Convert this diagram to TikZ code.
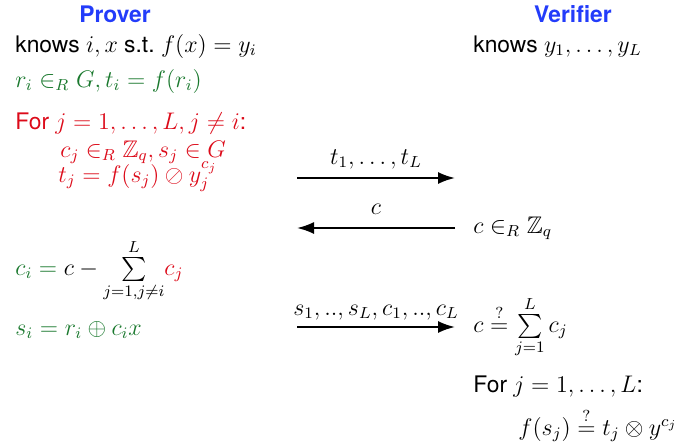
\documentclass[tikz,border=0pt]{standalone}
\usepackage{amssymb}
\usepackage{fontspec}
\setmainfont{TeX Gyre Heros}[Scale=0.95]
\usetikzlibrary{arrows.meta}
\definecolor{provblue}{RGB}{35,60,250}
\definecolor{provgreen}{RGB}{25,120,45}
\definecolor{provred}{RGB}{220,10,25}
\begin{document}
\begin{tikzpicture}[x=0.5pt, y=0.5pt, >={Latex[length=8.5pt,width=6pt]},
  font=\fontsize{12}{14}\selectfont,
  t/.style={anchor=base west, inner sep=0pt},
  hd/.style={anchor=base, font=\fontsize{12}{14}\selectfont\bfseries, text=provblue, inner sep=0pt},
  msg/.style={->, line width=1pt}]
\useasboundingbox (0,0) rectangle (685,-445);
% headers
\node[hd] (prover) at (115,-22) {Prover};
\node[hd] (verifier) at (573,-22) {Verifier};
% prover side
\node[t] (pknow) at (15,-52) {knows $i, x$ s.t.\ $f(x) = y_i$};
\node[t, text=provgreen] (pcommit) at (15,-87) {$r_i \in_R G, t_i = f(r_i)$};
\node[t, text=provred] (pfor) at (15,-129) {For $j = 1, \ldots, L, j \neq i$:};
\node[t, text=provred] (psim) at (60,-157) {$c_j \in_R \mathbb{Z}_q, s_j \in G$};
\node[t, text=provred] (ptj) at (58,-182) {$t_j = f(s_j) \oslash y_j^{c_j}$};
\node[t, text=provgreen] (pci) at (15,-275) {$c_i = {\color{black} c - \sum\limits_{j=1,j\neq i}^{L}} {\color{provred} c_j}$};
\node[t, text=provgreen] (psi) at (15,-335) {$s_i = r_i \oplus c_i x$};
% verifier side
\node[t] (vknow) at (473,-52) {knows $y_1, \ldots, y_L$};
\node[t] (vchal) at (473,-233) {$c \in_R \mathbb{Z}_q$};
\node[t] (vsum) at (473,-332) {$c \stackrel{?}{=} \sum\limits_{j=1}^{L} c_j$};
\node[t] (vfor) at (473,-392) {For $j = 1, \ldots, L$:};
\node[t] (vcheck) at (518,-435) {$f(s_j) \stackrel{?}{=} t_j \otimes y^{c_j}$};
% message ends
\coordinate (a1) at (297,-178); \coordinate (b1) at (455,-178);
\coordinate (a2) at (297,-228); \coordinate (b2) at (455,-228);
\coordinate (a3) at (297,-327); \coordinate (b3) at (455,-327);
\draw[msg] (a1) -- node[above=1pt] {$t_1, \ldots, t_L$} (b1);
\draw[msg] (b2) -- node[above=3pt] {$c$} (a2);
\draw[msg] (a3) -- node[above=0pt] {$s_1, .., s_L, c_1, .., c_L$} (b3);
\end{tikzpicture}
\end{document}
